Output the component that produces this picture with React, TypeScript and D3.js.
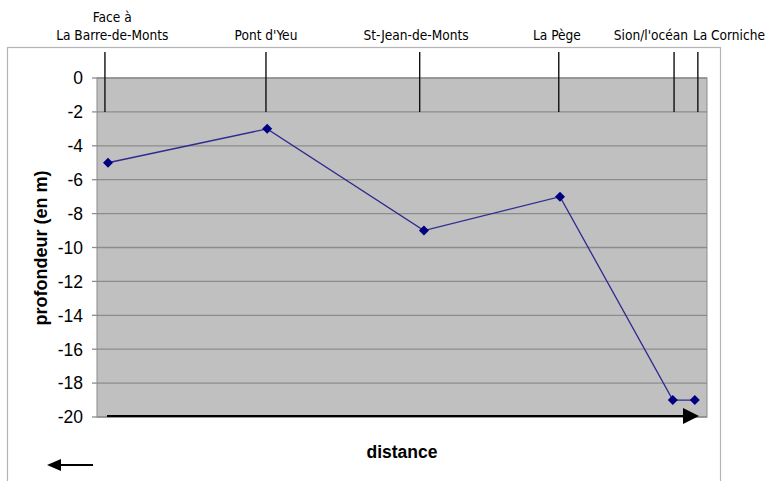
import React from "react";
import * as d3 from "d3";

// Sites along the coast (label lines) and depth soundings
const siteNames: string[][] = [
  ["Face à", "La Barre-de-Monts"],
  ["Pont d'Yeu"],
  ["St-Jean-de-Monts"],
  ["La Pège"],
  ["Sion/l'océan"],
  ["La Corniche"],
];
const siteMarks = [1.3, 27.7, 52.9, 75.7, 94.6, 98.5];
const labelCenters = [2.5, 27.7, 52.3, 75.4, 90.8, 103.6];
const distances = [1.8, 27.9, 53.6, 75.9, 94.4, 98.0];
const depths = [-5, -3, -9, -7, -19, -19];
const yTicks = [0, -2, -4, -6, -8, -10, -12, -14, -16, -18, -20];

const W = 767;
const H = 481;
const plot = { left: 97, right: 707, top: 78, bottom: 417 };

export default function App() {
  const x = d3.scaleLinear().domain([0, 100]).range([plot.left, plot.right]);
  const y = d3.scaleLinear().domain([0, -20]).range([plot.top, plot.bottom]);
  const line = d3
    .line<number>()
    .x((_, i) => x(distances[i]))
    .y((d) => y(d));
  // square marker turned 45° to get an even diamond
  const diamond = d3.symbol().type(d3.symbolSquare).size(50)();
  const narrow = "'DejaVu Sans Condensed', 'Liberation Sans Narrow', sans-serif";
  const sans = "'Liberation Sans', Arial, sans-serif";

  return (
    <svg
      width={W}
      height={H}
      style={{ position: "absolute", left: 0, top: 0, background: "#fff" }}
    >
      {/* outer frame */}
      <rect x={7.5} y={47.5} width={713} height={460} fill="none" stroke="#b4b4b4" strokeWidth={1.2} />

      {/* plot area */}
      <rect
        x={plot.left}
        y={plot.top}
        width={plot.right - plot.left}
        height={plot.bottom - plot.top}
        fill="#c0c0c0"
        stroke="#8c8c8c"
        strokeWidth={1}
      />
      {yTicks.map((t) => (
        <g key={t}>
          <line x1={plot.left} x2={plot.right} y1={y(t)} y2={y(t)} stroke="#8c8c8c" strokeWidth={1.3} />
          <line x1={plot.left - 5} x2={plot.left} y1={y(t)} y2={y(t)} stroke="#8c8c8c" strokeWidth={1.3} />
          <text
            x={83}
            y={y(t)}
            dy="0.36em"
            textAnchor="end"
            fontFamily={sans}
            fontSize={17.5}
            fill="#000"
          >
            {t}
          </text>
        </g>
      ))}

      {/* site marker lines and names */}
      {siteMarks.map((s, i) => (
        <line key={i} x1={x(s)} x2={x(s)} y1={52} y2={112} stroke="#111" strokeWidth={1.4} />
      ))}
      {siteNames.map((lines, i) =>
        lines.map((l, j) => (
          <text
            key={`${i}-${j}`}
            x={x(labelCenters[i])}
            y={40 - (lines.length - 1 - j) * 18}
            textAnchor="middle"
            fontFamily={narrow}
            fontSize={13.6}
            fill="#000"
          >
            {l}
          </text>
        ))
      )}

      {/* distance arrow along the bottom */}
      <line x1={107} x2={684} y1={416} y2={416} stroke="#000" strokeWidth={2.2} />
      <path d="M683,408 L699,416 L683,424 Z" fill="#000" />

      {/* depth profile */}
      <path d={line(depths) ?? ""} fill="none" stroke="#2e2a8f" strokeWidth={1.3} />
      {depths.map((d, i) => (
        <path
          key={i}
          d={diamond ?? ""}
          transform={`translate(${x(distances[i])},${y(d)}) rotate(45)`}
          fill="#000080"
        />
      ))}

      {/* axis titles */}
      <text
        x={402}
        y={458}
        textAnchor="middle"
        fontFamily={sans}
        fontWeight="bold"
        fontSize={17.5}
        fill="#000"
      >
        distance
      </text>
      <text
        transform={`translate(47,248) rotate(-90)`}
        textAnchor="middle"
        fontFamily={sans}
        fontWeight="bold"
        fontSize={18}
        fill="#000"
      >
        profondeur (en m)
      </text>

      {/* direction arrow */}
      <line x1={60} x2={93} y1={465} y2={465} stroke="#000" strokeWidth={2} />
      <path d="M47,465 L61,459 L61,471 Z" fill="#000" />
    </svg>
  );
}
